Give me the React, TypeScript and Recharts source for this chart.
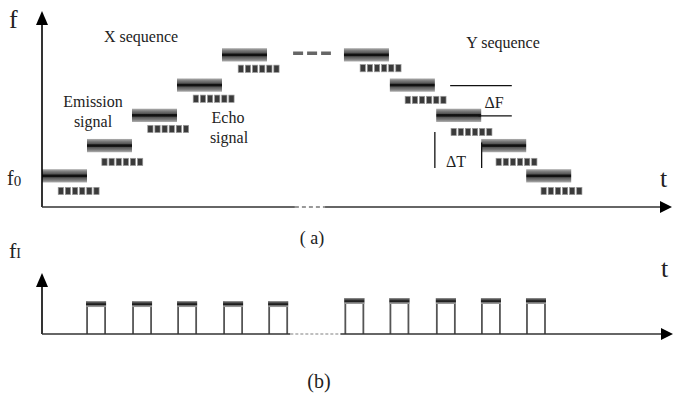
import React from 'react'
import { ComposedChart, XAxis, YAxis, ReferenceArea, ReferenceLine, ReferenceDot } from 'recharts'

// (a) time in pulse slots, frequency in steps of ΔF
const xSeqStart = [0, 1, 2, 3, 4]
const xSeqLevel = [0, 1, 2, 3, 4]
const ySeqStart = [6.71, 7.73, 8.76, 9.76, 10.76]
const ySeqLevel = [4, 3, 2, 1, 0]
const xEchoStart = [0.36, 1.33, 2.35, 3.36, 4.36]
const xEchoLevel = [-0.5, 0.46, 1.55, 2.55, 3.54]
const yEchoStart = [7.07, 8.07, 9.09, 10.09, 11.09]
const yEchoLevel = [3.56, 2.51, 1.45, 0.46, -0.5]
const BAR_LEN = 1
const ECHO_LEN = 0.95

// (b) intermediate-frequency pulses
const pulseStart = [1.0, 2.02, 3.02, 4.04, 5.04, 6.73, 7.73, 8.76, 9.76, 10.76]
const pulseAmp = [0.54, 0.54, 0.54, 0.54, 0.54, 0.59, 0.59, 0.59, 0.59, 0.59]
const PULSE_LEN = 0.4

const serif = '"Liberation Serif", "Times New Roman", serif'
const ink = '#222'

const EmissionBar = (p: any) => (
  <rect x={p.x} y={p.y} width={p.width} height={p.height} fill="url(#emitGrad)" />
)

const EchoBar = (p: any) => {
  const pitch = p.width / 6
  return (
    <g>
      {[0, 1, 2, 3, 4, 5].map(i => (
        <rect key={i} x={p.x + i * pitch} y={p.y} width={pitch * 0.74} height={p.height}
          fill="#3a3a3a" stroke="#9a9a9a" strokeWidth={0.7} />
      ))}
    </g>
  )
}

const Pulse = (p: any) => (
  <g>
    <line x1={p.x} y1={p.y} x2={p.x} y2={p.y + p.height} stroke="#555" strokeWidth={1.8} />
    <line x1={p.x + p.width} y1={p.y} x2={p.x + p.width} y2={p.y + p.height} stroke="#555" strokeWidth={1.8} />
    <rect x={p.x - 1} y={p.y} width={p.width + 2} height={6} fill="url(#pulseGrad)" />
  </g>
)

const ArrowUp = ({ cx, cy }: any) => (
  <path d={`M${cx},${cy} L${cx - 6},${cy + 14} L${cx + 6},${cy + 14} Z`} fill="#000" />
)
const ArrowRight = ({ cx, cy }: any) => (
  <path d={`M${cx},${cy} L${cx - 12},${cy - 6} L${cx - 12},${cy + 6} Z`} fill="#000" />
)

function PanelA() {
  return (
    <ComposedChart width={673} height={250} margin={{ top: 11, right: 1, left: 42, bottom: 43 }}>
      <defs>
        <linearGradient id="emitGrad" x1="0" y1="0" x2="0" y2="1">
          <stop offset="0%" stopColor="#b0b0b0" />
          <stop offset="18%" stopColor="#7a7a7a" />
          <stop offset="36%" stopColor="#555" />
          <stop offset="44%" stopColor="#111" />
          <stop offset="56%" stopColor="#111" />
          <stop offset="64%" stopColor="#555" />
          <stop offset="82%" stopColor="#7a7a7a" />
          <stop offset="100%" stopColor="#b0b0b0" />
        </linearGradient>
      </defs>
      <XAxis type="number" dataKey="t" domain={[0, 14]} allowDataOverflow hide />
      <YAxis type="number" domain={[-1.03, 5.45]} allowDataOverflow hide />

      {/* axes */}
      <ReferenceLine segment={[{ x: 0, y: -1.03 }, { x: 0, y: 5.1 }]} stroke="#000" strokeWidth={1.6} ifOverflow="visible" />
      <ReferenceLine segment={[{ x: 0, y: -1.03 }, { x: 5.62, y: -1.03 }]} stroke="#333" strokeWidth={1.6} ifOverflow="visible" />
      <ReferenceLine segment={[{ x: 5.62, y: -1.03 }, { x: 6.29, y: -1.03 }]} stroke="#999" strokeWidth={2} strokeDasharray="4 3" ifOverflow="visible" />
      <ReferenceLine segment={[{ x: 6.29, y: -1.03 }, { x: 13.8, y: -1.03 }]} stroke="#333" strokeWidth={1.6} ifOverflow="visible" />
      <ReferenceDot x={0} y={5.45} r={0} shape={ArrowUp} ifOverflow="visible" />
      <ReferenceDot x={14} y={-1.03} r={0} shape={ArrowRight} ifOverflow="visible" />

      {xSeqStart.map((t, i) => (
        <ReferenceArea key={'xe' + i} x1={t} x2={t + BAR_LEN} y1={xSeqLevel[i] - 0.22} y2={xSeqLevel[i] + 0.22}
          shape={EmissionBar} ifOverflow="visible" />
      ))}
      {ySeqStart.map((t, i) => (
        <ReferenceArea key={'ye' + i} x1={t} x2={t + BAR_LEN} y1={ySeqLevel[i] - 0.22} y2={ySeqLevel[i] + 0.22}
          shape={EmissionBar} ifOverflow="visible" />
      ))}
      {xEchoStart.map((t, i) => (
        <ReferenceArea key={'xc' + i} x1={t} x2={t + ECHO_LEN} y1={xEchoLevel[i] - 0.12} y2={xEchoLevel[i] + 0.12}
          shape={EchoBar} ifOverflow="visible" />
      ))}
      {yEchoStart.map((t, i) => (
        <ReferenceArea key={'yc' + i} x1={t} x2={t + ECHO_LEN} y1={yEchoLevel[i] - 0.12} y2={yEchoLevel[i] + 0.12}
          shape={EchoBar} ifOverflow="visible" />
      ))}

      {/* continuation dashes */}
      <ReferenceLine segment={[{ x: 5.58, y: 4.05 }, { x: 6.42, y: 4.05 }]} stroke="#666" strokeWidth={3.5} strokeDasharray="10 4" ifOverflow="visible" />

      {/* ΔF and ΔT markers */}
      <ReferenceLine segment={[{ x: 9.07, y: 2.98 }, { x: 10.44, y: 2.98 }]} stroke="#111" strokeWidth={1.3} ifOverflow="visible" />
      <ReferenceLine segment={[{ x: 9.7, y: 1.98 }, { x: 10.44, y: 1.98 }]} stroke="#111" strokeWidth={1.3} ifOverflow="visible" />
      <ReferenceLine segment={[{ x: 8.73, y: 1.45 }, { x: 8.73, y: 0.26 }]} stroke="#111" strokeWidth={1.3} ifOverflow="visible" />
      <ReferenceLine segment={[{ x: 9.77, y: 1.1 }, { x: 9.77, y: 0.26 }]} stroke="#111" strokeWidth={1.3} ifOverflow="visible" />
    </ComposedChart>
  )
}

function PanelB() {
  return (
    <ComposedChart width={673} height={147} margin={{ top: 23, right: 0, left: 42, bottom: 63 }}>
      <defs>
        <linearGradient id="pulseGrad" x1="0" y1="0" x2="0" y2="1">
          <stop offset="0%" stopColor="#999" />
          <stop offset="30%" stopColor="#444" />
          <stop offset="55%" stopColor="#111" />
          <stop offset="75%" stopColor="#777" />
          <stop offset="100%" stopColor="#aaa" />
        </linearGradient>
      </defs>
      <XAxis type="number" dataKey="t" domain={[0, 14]} allowDataOverflow hide />
      <YAxis type="number" domain={[0, 1]} allowDataOverflow hide />

      <ReferenceLine segment={[{ x: 0, y: 0 }, { x: 0, y: 0.8 }]} stroke="#000" strokeWidth={1.6} ifOverflow="visible" />
      <ReferenceLine segment={[{ x: 0, y: 0 }, { x: 5.51, y: 0 }]} stroke="#333" strokeWidth={1.6} ifOverflow="visible" />
      <ReferenceLine segment={[{ x: 5.51, y: 0 }, { x: 6.62, y: 0 }]} stroke="#aaa" strokeWidth={1.6} strokeDasharray="3 2" ifOverflow="visible" />
      <ReferenceLine segment={[{ x: 6.62, y: 0 }, { x: 13.8, y: 0 }]} stroke="#333" strokeWidth={1.6} ifOverflow="visible" />
      <ReferenceDot x={0} y={1} r={0} shape={ArrowUp} ifOverflow="visible" />
      <ReferenceDot x={14} y={0} r={0} shape={ArrowRight} ifOverflow="visible" />

      {pulseStart.map((t, i) => (
        <ReferenceArea key={'p' + i} x1={t} x2={t + PULSE_LEN} y1={0} y2={pulseAmp[i]}
          shape={Pulse} ifOverflow="visible" />
      ))}
    </ComposedChart>
  )
}

function Labels() {
  const note = { fontFamily: serif, fontSize: 16, fill: ink, textAnchor: 'middle' as const }
  return (
    <svg width={673} height={397} style={{ position: 'absolute', left: 0, top: 0, pointerEvents: 'none' }}>
      <text x={9} y={28} fontFamily={serif} fontSize={26} fill={ink}>f</text>
      <text x={7} y={185} fontFamily={serif} fill={ink}>
        <tspan fontSize={20}>f</tspan><tspan fontSize={15} dy={1}>0</tspan>
      </text>
      <text x={660} y={187} fontFamily={serif} fontSize={26} fill={ink}>t</text>
      <text x={141} y={42} {...note}>X sequence</text>
      <text x={93} y={107} {...note}>Emission</text>
      <text x={93} y={127} {...note}>signal</text>
      <text x={228} y={123} {...note}>Echo</text>
      <text x={229} y={143} {...note}>signal</text>
      <text x={503} y={48} {...note}>Y sequence</text>
      <text x={494} y={108} {...note}>ΔF</text>
      <text x={456} y={167} {...note}>ΔT</text>
      <text x={312} y={244} {...note} fontSize={18}>(  a)</text>

      <text x={9} y={258} fontFamily={serif} fill={ink}>
        <tspan fontSize={22}>f</tspan><tspan fontSize={14} dy={0}>I</tspan>
      </text>
      <text x={661} y={277} fontFamily={serif} fontSize={26} fill={ink}>t</text>
      <text x={319} y={388} {...note} fontSize={20}>(b)</text>
    </svg>
  )
}

export default function App() {
  return (
    <div style={{ position: 'absolute', left: 0, top: 0, width: 673, height: 397, background: '#fff' }}>
      <div style={{ position: 'absolute', left: 0, top: 0 }}>
        <PanelA />
      </div>
      <div style={{ position: 'absolute', left: 0, top: 250 }}>
        <PanelB />
      </div>
      <Labels />
    </div>
  )
}
